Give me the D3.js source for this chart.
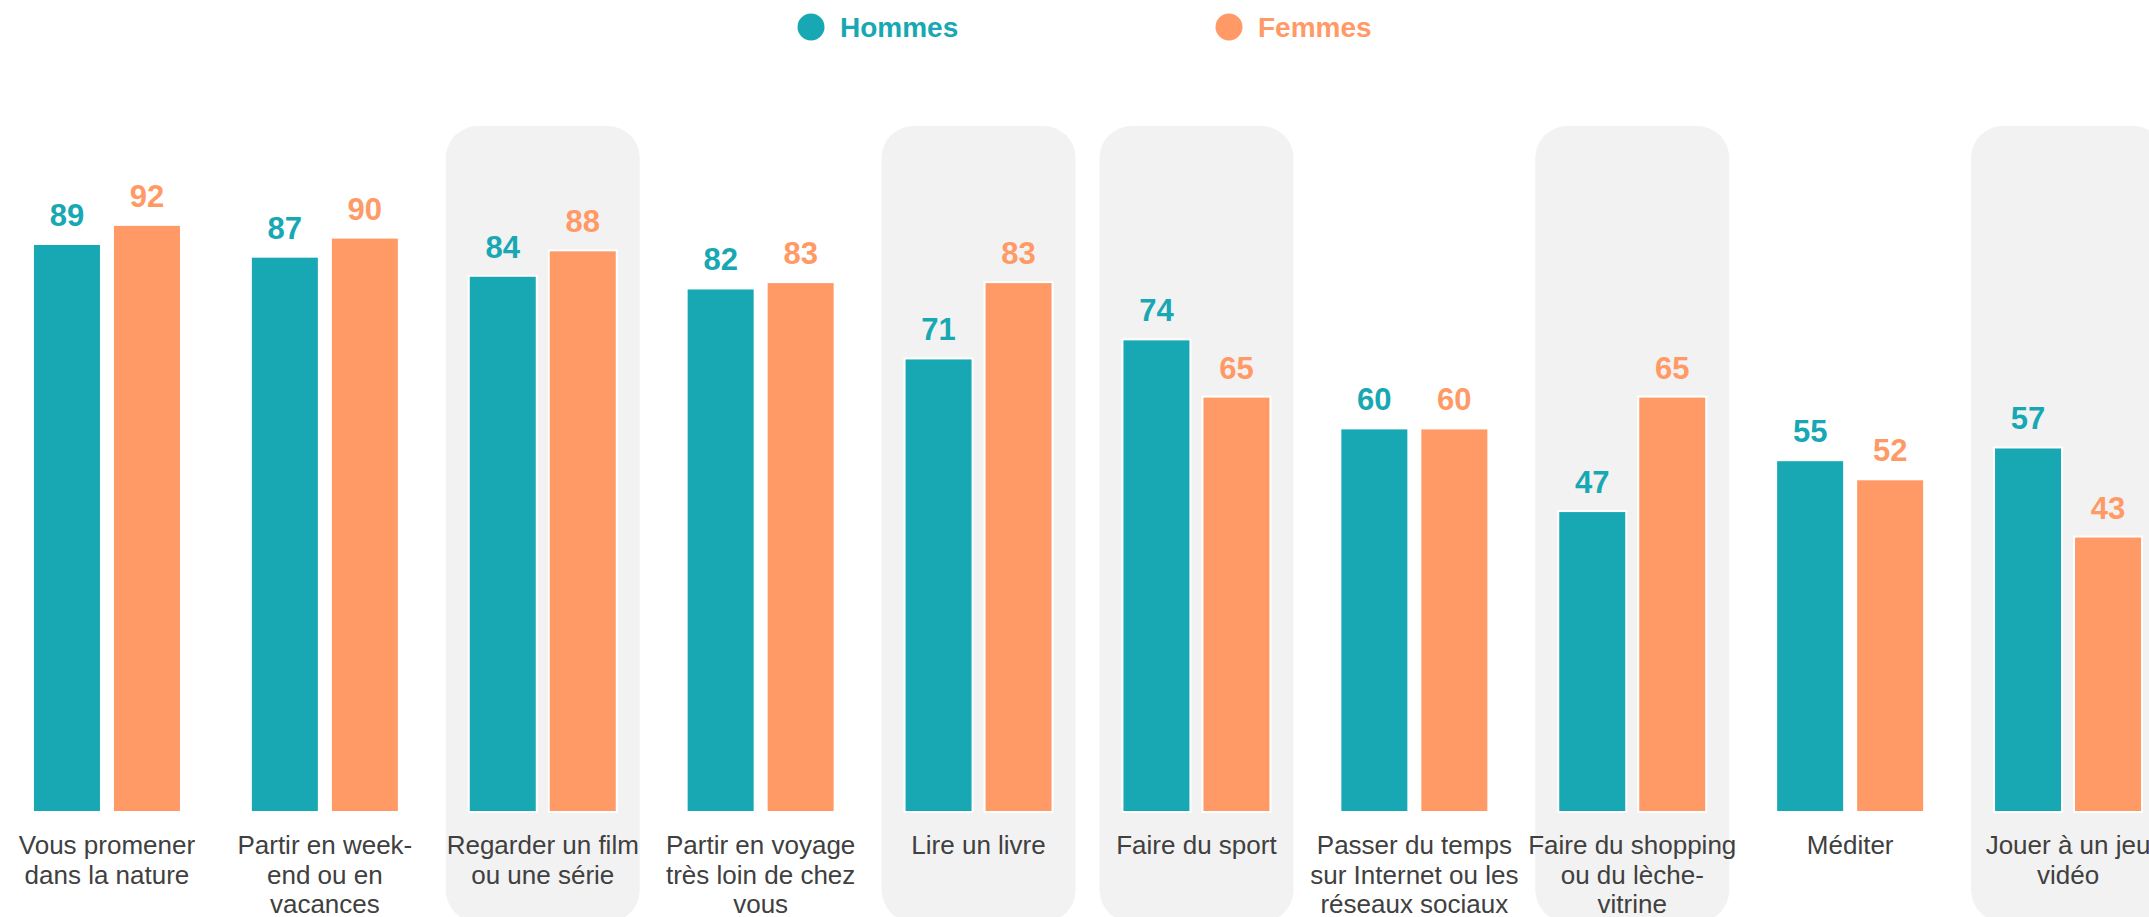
<!DOCTYPE html>
<html>
<head>
<meta charset="utf-8" />
<style>
body { margin: 0; background: #fff; }
text { font-family: "Liberation Sans", Arial, sans-serif; }
.cat { font-size: 26px; fill: #404040; }
.val { font-size: 31px; font-weight: bold; }
.leg { font-size: 28px; font-weight: bold; }
</style>
</head>
<body>
<script src="https://cdn.jsdelivr.net/npm/d3@7"></script>
<script>
var categories = [
    ["Vous promener", "dans la nature"],
    ["Partir en week-", "end ou en", "vacances"],
    ["Regarder un film", "ou une série"],
    ["Partir en voyage", "très loin de chez", "vous"],
    ["Lire un livre"],
    ["Faire du sport"],
    ["Passer du temps", "sur Internet ou les", "réseaux sociaux"],
    ["Faire du shopping", "ou du lèche-", "vitrine"],
    ["Méditer"],
    ["Jouer à un jeu", "vidéo"]
];
var hommes = [89, 87, 84, 82, 71, 74, 60, 47, 55, 57];
var femmes = [92, 90, 88, 83, 83, 65, 60, 65, 52, 43];
var highlighted = [2, 4, 5, 7, 9];
var seriesNames = ["Hommes", "Femmes"];
var colors = ["#18a8b3", "#ff9a67"];

var width = 2149, height = 917;

var svg = d3.select("body").append("svg")
    .attr("width", width)
    .attr("height", height);

var x = d3.scaleBand()
    .domain(d3.range(categories.length))
    .range([-2, 2177]);

var y = d3.scaleLinear()
    .domain([0, 100])
    .range([811, 175]);

var barW = 66, gap = 7;

// grey rounded panels behind some groups
svg.selectAll(".panel")
    .data(highlighted)
  .enter().append("rect")
    .attr("class", "panel")
    .attr("x", function(i) { return x(i) + x.bandwidth() / 2 - 97; })
    .attr("y", 126)
    .attr("width", 194)
    .attr("height", 796)
    .attr("rx", 32)
    .style("fill", "#f2f2f2");

var series = [hommes, femmes];

series.forEach(function(values, s) {
    var bx = function(d, i) {
        var c = x(i) + x.bandwidth() / 2;
        return s === 0 ? c - gap - barW : c + gap;
    };

    svg.selectAll(".bar" + s)
        .data(values)
      .enter().append("rect")
        .attr("class", "bar" + s)
        .attr("x", bx)
        .attr("y", function(d) { return y(d); })
        .attr("width", barW)
        .attr("height", function(d) { return y(0) - y(d); })
        .style("fill", colors[s])
        .style("stroke", "#fff")
        .style("stroke-width", 4)
        .style("paint-order", "stroke");

    svg.selectAll(".val" + s)
        .data(values)
      .enter().append("text")
        .attr("class", "val")
        .attr("x", function(d, i) { return bx(d, i) + barW / 2; })
        .attr("y", function(d) { return y(d) - 19; })
        .attr("text-anchor", "middle")
        .style("fill", colors[s])
        .text(function(d) { return d; });
});

// category labels
var cat = svg.selectAll(".cat")
    .data(categories)
  .enter().append("text")
    .attr("class", "cat")
    .attr("text-anchor", "middle")
    .attr("x", function(d, i) { return x(i) + x.bandwidth() / 2; })
    .attr("y", 854);

cat.selectAll("tspan")
    .data(function(d) { return d; })
  .enter().append("tspan")
    .attr("x", function() { return d3.select(this.parentNode).attr("x"); })
    .attr("dy", function(d, j) { return j === 0 ? 0 : 29.5; })
    .text(function(d) { return d; });

// legend
var legX = [811, 1229];
var leg = svg.selectAll(".legend")
    .data(seriesNames)
  .enter().append("g")
    .attr("transform", function(d, i) { return "translate(" + legX[i] + ",27)"; });

leg.append("circle")
    .attr("r", 13.5)
    .style("fill", function(d, i) { return colors[i]; });

leg.append("text")
    .attr("class", "leg")
    .attr("x", 29)
    .attr("y", 10)
    .style("fill", function(d, i) { return colors[i]; })
    .text(function(d) { return d; });
</script>
</body>
</html>
